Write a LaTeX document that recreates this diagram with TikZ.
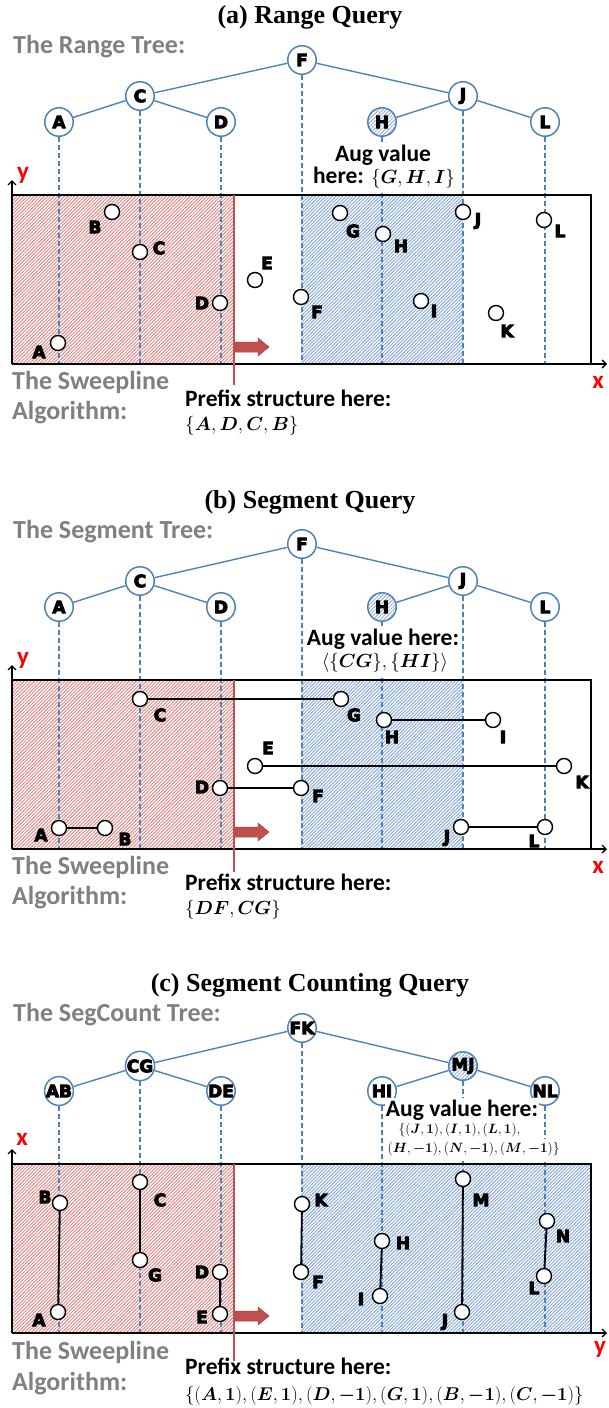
\RequirePackage{fix-cm}
\documentclass[tikz,border=0pt]{standalone}
\usepackage{amsmath}
\usepackage{fontspec}
\usetikzlibrary{patterns.meta,arrows.meta}
\newfontfamily\calfont{Carlito}
\newfontfamily\heavyfont[UprightFont={* Bold}, FakeBold=5]{DejaVu Sans}
\newfontfamily\titlefont{Liberation Serif}
\definecolor{treeblue}{HTML}{4F81BD}
\definecolor{sweepred}{HTML}{C0504D}
\definecolor{hatchred}{HTML}{DE8B89}
\definecolor{hatchblue}{HTML}{8BAAD8}
\definecolor{labgray}{HTML}{808080}
\newcommand{\bs}[1]{\boldsymbol{#1}}
\tikzset{
  tnode/.style={circle, draw=treeblue, line width=1.5pt, fill=white, minimum size=28.5pt, inner sep=0pt, font=\heavyfont\fontsize{17}{17}\selectfont},
  hnode/.style={tnode, pattern={Lines[angle=45,distance=2.6pt,line width=0.8pt]}, pattern color=hatchblue},
  ptc/.style={circle, draw=black, line width=1.4pt, fill=white, minimum size=15pt, inner sep=0pt},
  plab/.style={font=\heavyfont\fontsize{17}{17}\selectfont, inner sep=0pt},
  dl/.style={treeblue, line width=1.4pt, dash pattern=on 5pt off 3pt},
  te/.style={treeblue, line width=1.4pt},
  seg/.style={black, line width=1.8pt},
  ttl/.style={font=\titlefont\bfseries\fontsize{26}{26}\selectfont, inner sep=0pt},
  gtext/.style={labgray, font=\calfont\bfseries\fontsize{26}{26}\selectfont, anchor=west, inner sep=0pt},
  btext/.style={black, font=\calfont\bfseries\fontsize{23.5}{23.5}\selectfont, inner sep=0pt},
  mtext/.style={black, font=\fontsize{19}{19}\selectfont, inner sep=0pt},
  smath/.style={black, font=\fontsize{13.5}{13.5}\selectfont, fill=white, inner xsep=0.5pt, inner ysep=3pt, anchor=west},
  axlab/.style={red, font=\calfont\bfseries\fontsize{25}{25}\selectfont, inner sep=0pt},
  axis/.style={black, line width=1.3pt, -{Straight Barb[length=4pt,width=8pt]}},
  redhatch/.style={pattern={Lines[angle=45,distance=2.4pt,line width=1pt]}, pattern color=hatchred},
  bluehatch/.style={pattern={Lines[angle=45,distance=2.4pt,line width=1pt]}, pattern color=hatchblue},
  sweep/.style={sweepred, line width=2pt},
  redarrow/.style={fill=sweepred, draw=sweepred!85!black, line width=0.5pt}
}
\begin{document}
\begin{tikzpicture}[x=1pt,y=-1pt]
\useasboundingbox (0,0) rectangle (608,1408);

%================ PANEL (a) ================
\begin{scope}
\node[ttl] (atitle) at (310,17) {(a) Range Query};
\node[gtext] (alab) at (13,47) {The Range Tree:};
\fill[redhatch] (12,195) rectangle (234,364);
\fill[bluehatch] (301,195) rectangle (463,364);
\node[tnode] (aF) at (302,60) {F};
\node[tnode] (aC) at (140,96) {C};
\node[tnode] (aJ) at (463,96) {J};
\node[tnode] (aA) at (59,122) {A};
\node[tnode] (aD) at (221,122) {D};
\node[hnode] (aH) at (382,122) {H};
\node[tnode] (aL) at (545,122) {L};
\draw[te] (aF) -- (aC); \draw[te] (aF) -- (aJ);
\draw[te] (aC) -- (aA); \draw[te] (aC) -- (aD);
\draw[te] (aJ) -- (aH); \draw[te] (aJ) -- (aL);
\foreach \n/\x in {A/59,C/140,D/221,F/302,H/382,J/463,L/545}{
  \coordinate (a\n b) at (\x,364);
  \draw[dl] (a\n) -- (a\n b);
}
\node[btext, fill=white, inner xsep=1pt, inner ysep=2.5pt] (aaug1) at (383,155) {Aug value};
\node[btext, fill=white, inner xsep=1pt, inner ysep=2.5pt] (aaug2) at (384,178) {here: {\fontsize{19}{19}\selectfont$\{\bs{G},\bs{H},\bs{I}\}$}};
\draw[line width=1.3pt] (12,195) -- (591,195) -- (591,364);
\coordinate (aO) at (12,364);
\coordinate (aXe) at (607,364);
\coordinate (aYe) at (12,180);
\draw[axis] (aO) -- (aXe);
\draw[axis] (aO) -- (aYe);
\node[axlab] (ay) at (23,175) {y};
\node[axlab] (ax) at (598,382) {x};
\coordinate (asT) at (234,195); \coordinate (asB) at (234,385);
\draw[sweep] (asT) -- (asB);
\draw[redarrow] (235,342) -- (258,342) -- (258,338) -- (269,347) -- (258,356) -- (258,352) -- (235,352) -- cycle;
% points
\node[ptc] (apA) at (58,343) {}; \node[plab] at (39,352) {A};
\node[ptc] (apB) at (112,212) {}; \node[plab] at (95,227) {B};
\node[ptc] (apC) at (140,252) {}; \node[plab] at (159,248) {C};
\node[ptc] (apD) at (220,303) {}; \node[plab] at (202,303) {D};
\node[ptc] (apE) at (255,280) {}; \node[plab] at (267,263) {E};
\node[ptc] (apF) at (301,297) {}; \node[plab] at (317,312) {F};
\node[ptc] (apG) at (340,213) {}; \node[plab] at (353,231) {G};
\node[ptc] (apH) at (383,234) {}; \node[plab] at (401,246) {H};
\node[ptc] (apI) at (421,301) {}; \node[plab] at (434,311) {I};
\node[ptc] (apJ) at (463,212) {}; \node[plab] at (478,221) {J};
\node[ptc] (apK) at (496,313) {}; \node[plab] at (507,331) {K};
\node[ptc] (apL) at (544,220) {}; \node[plab] at (560,231) {L};
\node[gtext] (asw1) at (12,382) {The Sweepline};
\node[gtext] (asw2) at (12,413) {Algorithm:};
\node[btext, anchor=west] (apre1) at (185,398) {Prefix structure here:};
\node[mtext, anchor=west] (apre2) at (185,426) {$\{\bs{A},\bs{D},\bs{C},\bs{B}\}$};
\end{scope}

%================ PANEL (b) ================
\begin{scope}[yshift=-485pt]
\node[ttl] (btitle) at (310,17) {(b) Segment Query};
\node[gtext] (blab) at (13,47) {The Segment Tree:};
\fill[redhatch] (12,195) rectangle (234,364);
\fill[bluehatch] (301,195) rectangle (463,364);
\node[tnode] (bF) at (302,59) {F};
\node[tnode] (bC) at (140,96) {C};
\node[tnode] (bJ) at (463,96) {J};
\node[tnode] (bA) at (59,122) {A};
\node[tnode] (bD) at (221,122) {D};
\node[hnode] (bH) at (382,122) {H};
\node[tnode] (bL) at (545,122) {L};
\draw[te] (bF) -- (bC); \draw[te] (bF) -- (bJ);
\draw[te] (bC) -- (bA); \draw[te] (bC) -- (bD);
\draw[te] (bJ) -- (bH); \draw[te] (bJ) -- (bL);
\foreach \n/\x in {A/59,C/140,D/221,F/302,H/382,J/463,L/545}{
  \coordinate (b\n b) at (\x,364);
  \draw[dl] (b\n) -- (b\n b);
}
\node[btext, fill=white, inner xsep=1pt, inner ysep=3pt] (baug1) at (383,154) {Aug value here:};
\node[mtext, fill=white, inner xsep=1pt, inner ysep=3pt] (baug2) at (385,178) {$\langle\{\bs{C}\bs{G}\},\{\bs{H}\bs{I}\}\rangle$};
\draw[line width=1.3pt] (12,195) -- (591,195) -- (591,364);
\coordinate (bO) at (12,364);
\coordinate (bXe) at (607,364);
\coordinate (bYe) at (12,180);
\draw[axis] (bO) -- (bXe);
\draw[axis] (bO) -- (bYe);
\node[axlab] (by) at (23,175) {y};
\node[axlab] (bx) at (598,382) {x};
\coordinate (bsT) at (234,195); \coordinate (bsB) at (234,387);
\draw[sweep] (bsT) -- (bsB);
\draw[redarrow] (235,342) -- (258,342) -- (258,338) -- (269,347) -- (258,356) -- (258,352) -- (235,352) -- cycle;
% segments
\node[ptc] (bpC) at (140,214) {}; \node[ptc] (bpG) at (341,214) {};
\node[ptc] (bpH) at (384,235) {}; \node[ptc] (bpI) at (493,235) {};
\node[ptc] (bpE) at (255,281) {}; \node[ptc] (bpK) at (564,281) {};
\node[ptc] (bpD) at (220,303) {}; \node[ptc] (bpF) at (301,303) {};
\node[ptc] (bpA) at (59,343) {}; \node[ptc] (bpB) at (105,343) {};
\node[ptc] (bpJ) at (461,342) {}; \node[ptc] (bpL) at (545,342) {};
\draw[seg] (bpC) -- (bpG);
\draw[seg] (bpH) -- (bpI);
\draw[seg] (bpE) -- (bpK);
\draw[seg] (bpD) -- (bpF);
\draw[seg] (bpA) -- (bpB);
\draw[seg] (bpJ) -- (bpL);
\node[plab] at (160,230) {C}; \node[plab] at (354,230) {G};
\node[plab] at (392,252) {H}; \node[plab] at (503,252) {I};
\node[plab] at (268,263) {E}; \node[plab] at (582,297) {K};
\node[plab] at (202,302) {D}; \node[plab] at (318,311) {F};
\node[plab] at (41,350) {A}; \node[plab] at (125,354) {B};
\node[plab] at (447,353) {J}; \node[plab] at (534,356) {L};
\node[gtext] (bsw1) at (12,382) {The Sweepline};
\node[gtext] (bsw2) at (12,413) {Algorithm:};
\node[btext, anchor=west] (bpre1) at (185,397) {Prefix structure here:};
\node[mtext, anchor=west] (bpre2) at (185,425) {$\{\bs{D}\bs{F},\bs{C}\bs{G}\}$};
\end{scope}

%================ PANEL (c) ================
\begin{scope}[yshift=-969pt]
\node[ttl] (ctitle) at (310,16) {(c) Segment Counting Query};
\node[gtext] (clab) at (13,46) {The SegCount Tree:};
\fill[redhatch] (12,195) rectangle (234,364);
\fill[bluehatch] (301,195) rectangle (591,364);
\node[tnode] (cF) at (302,59) {FK};
\node[tnode] (cC) at (140,97) {CG};
\node[hnode] (cJ) at (463,97) {MJ};
\node[tnode] (cA) at (59,122) {AB};
\node[tnode] (cD) at (221,122) {DE};
\node[tnode] (cH) at (382,122) {HI};
\node[tnode] (cL) at (545,122) {NL};
\draw[te] (cF) -- (cC); \draw[te] (cF) -- (cJ);
\draw[te] (cC) -- (cA); \draw[te] (cC) -- (cD);
\draw[te] (cJ) -- (cH); \draw[te] (cJ) -- (cL);
\foreach \n/\x in {A/59,C/140,D/221,F/302,H/382,J/463,L/545}{
  \coordinate (c\n b) at (\x,364);
  \draw[dl] (c\n) -- (c\n b);
}
\node[btext, fill=white, inner xsep=0.5pt, inner ysep=1.5pt] (caug1) at (462,141) {Aug value here:};
\node[smath] (caug2) at (398,161) {$\{(\bs{J},\bs{1}),(\bs{I},\bs{1}),(\bs{L},\bs{1}),$};
\node[smath] (caug3) at (387,180) {$(\bs{H},\bs{-1}),(\bs{N},\bs{-1}),(\bs{M},\bs{-1})\}$};
\draw[line width=1.3pt] (12,195) -- (591,195) -- (591,364);
\coordinate (cO) at (12,364);
\coordinate (cXe) at (607,364);
\coordinate (cYe) at (12,180);
\draw[axis] (cO) -- (cXe);
\draw[axis] (cO) -- (cYe);
\node[axlab] (cx) at (22,170) {x};
\node[axlab] (cy) at (600,380) {y};
\coordinate (csT) at (234,195); \coordinate (csB) at (234,392);
\draw[sweep] (csT) -- (csB);
\draw[redarrow] (235,342) -- (258,342) -- (258,338) -- (269,347) -- (258,356) -- (258,352) -- (235,352) -- cycle;
% segments
\node[ptc] (cpB) at (60,234) {}; \node[ptc] (cpA) at (58,343) {};
\node[ptc] (cpC) at (140,213) {}; \node[ptc] (cpG) at (140,291) {};
\node[ptc] (cpD) at (220,303) {}; \node[ptc] (cpE) at (220,345) {};
\node[ptc] (cpK) at (302,235) {}; \node[ptc] (cpF) at (301,303) {};
\node[ptc] (cpH) at (382,272) {}; \node[ptc] (cpI) at (380,327) {};
\node[ptc] (cpM) at (463,210) {}; \node[ptc] (cpJ) at (462,343) {};
\node[ptc] (cpN) at (547,252) {}; \node[ptc] (cpL) at (544,307) {};
\draw[seg] (cpB) -- (cpA);
\draw[seg] (cpC) -- (cpG);
\draw[seg] (cpD) -- (cpE);
\draw[seg] (cpK) -- (cpF);
\draw[seg] (cpH) -- (cpI);
\draw[seg] (cpM) -- (cpJ);
\draw[seg] (cpN) -- (cpL);
\node[plab] at (45,228) {B}; \node[plab] at (39,351) {A};
\node[plab] at (160,231) {C}; \node[plab] at (155,306) {G};
\node[plab] at (202,303) {D}; \node[plab] at (202,348) {E};
\node[plab] at (321,231) {K}; \node[plab] at (318,313) {F};
\node[plab] at (403,274) {H}; \node[plab] at (361,330) {I};
\node[plab] at (481,231) {M}; \node[plab] at (445,353) {J};
\node[plab] at (563,267) {N}; \node[plab] at (534,319) {L};
\node[gtext] (csw1) at (12,383) {The Sweepline};
\node[gtext] (csw2) at (12,415) {Algorithm:};
\node[btext, anchor=west] (cpre1) at (185,397) {Prefix structure here:};
\node[mtext, anchor=west, font=\fontsize{18.5}{18.5}\selectfont] (cpre2) at (185,427) {$\{(\bs{A},\bs{1}),(\bs{E},\bs{1}),(\bs{D},\bs{-1}),(\bs{G},\bs{1}),(\bs{B},\bs{-1}),(\bs{C},\bs{-1})\}$};
\end{scope}
\end{tikzpicture}
\end{document}
